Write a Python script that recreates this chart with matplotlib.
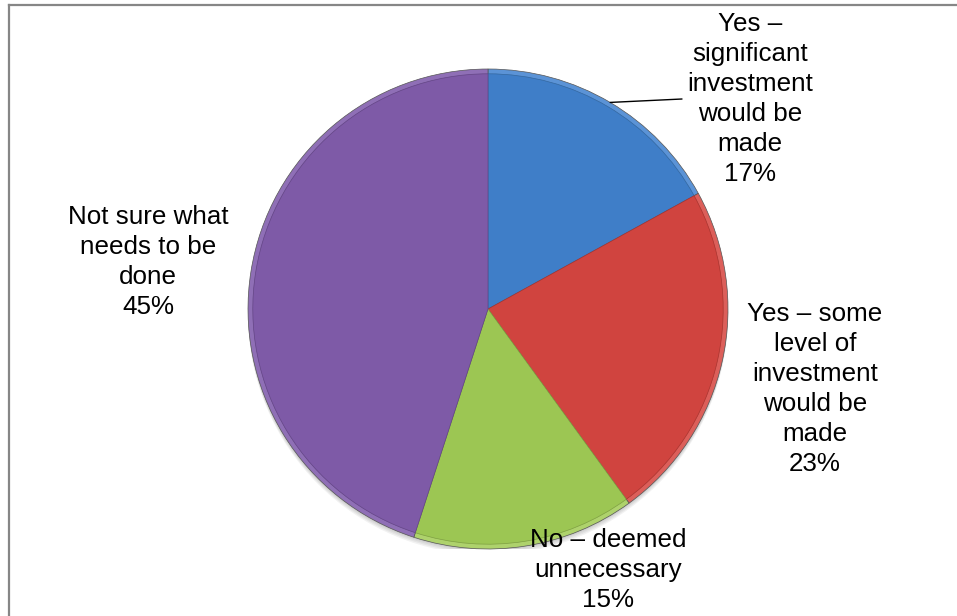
import numpy as np
import matplotlib
matplotlib.use("Agg")
import matplotlib.pyplot as plt
from matplotlib.patches import ConnectionPatch, Circle

plt.rcParams['font.family'] = ['Liberation Sans', 'DejaVu Sans']

# answers, clockwise from 12 o'clock
categories = [
    "Yes \u2013\nsignificant\ninvestment\nwould be\nmade",
    "Yes \u2013 some\nlevel of\ninvestment\nwould be\nmade",
    "No \u2013 deemed\nunnecessary",
    "Not sure what\nneeds to be\ndone",
]
shares = [17, 23, 15, 45]
base_colors = ["#3f7ec8", "#d0443f", "#9cc653", "#7e5aa7"]
rim_colors = ["#5b93d6", "#dc5f5a", "#aed26c", "#8f6fb6"]
edge_colors = ["#33679f", "#a8342f", "#7e9f42", "#634585"]

W, H, DPI = 957, 616, 100
fig = plt.figure(figsize=(W / DPI, H / DPI), dpi=DPI)
fig.patch.set_facecolor("white")

# pie box in pixels (left, top, size)
px_left, px_top, px_size = 248, 69, 480
ax = fig.add_axes([px_left / W, (H - px_top - px_size) / H, px_size / W, px_size / H])

# soft drop shadow falling below the pie
for k in range(1, 5):
    ax.add_patch(Circle((0.0, -0.006 * k), 1.0, color="black",
                        alpha=0.05, lw=0, zorder=0))

# outer pass gives the light bevel rim, inner pass the flat body
ax.pie(shares, radius=1.0, startangle=90, counterclock=False, colors=rim_colors,
       wedgeprops=dict(linewidth=0.5, edgecolor="#555555"))
wedges, _ = ax.pie(shares, radius=0.98, startangle=90, counterclock=False,
                   colors=base_colors, wedgeprops=dict(linewidth=0))
for w, ec in zip(wedges, edge_colors):
    w.set_edgecolor(ec)
    w.set_linewidth(0.5)
ax.set_xlim(-1, 1)
ax.set_ylim(-1, 1)
ax.set_aspect("auto")
ax.axis("off")

# overlay in pixel coordinates for labels, leader line and frame
ov = fig.add_axes([0, 0, 1, 1])
ov.set_xlim(0, W)
ov.set_ylim(H, 0)
ov.patch.set_alpha(0)
ov.axis("off")

ov.plot([8.5, 8.5], [H, 4.5], color="#868686", lw=1.6, solid_capstyle="projecting")
ov.plot([8.5, W], [4.5, 4.5], color="#868686", lw=1.6, solid_capstyle="projecting")

label_pos = [(750, 99), (815, 389), (608, 570), (148, 262)]
for name, pct, (x, y) in zip(categories, shares, label_pos):
    ov.text(x, y, f"{name}\n{pct}%", ha="center", va="center", fontsize=18.7,
            linespacing=1.31, color="black")

# leader line from the middle of the first slice to its label
cum = np.cumsum([0] + shares)
mid = np.deg2rad(90 - 360 * (cum[0] + shares[0] / 2) / sum(shares))
con = ConnectionPatch(xyA=(np.cos(mid), np.sin(mid)), coordsA=ax.transData,
                      xyB=(682, 99), coordsB=ov.transData, color="black", lw=1.0)
fig.add_artist(con)

fig.savefig("out.png", dpi=DPI)
